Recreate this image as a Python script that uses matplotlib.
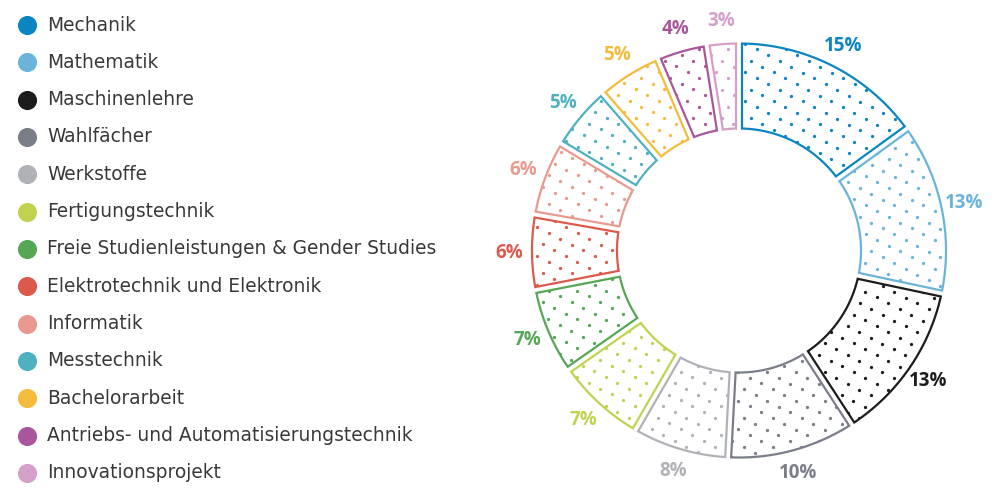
import numpy as np
import matplotlib.pyplot as plt
from matplotlib.path import Path
from matplotlib.patches import PathPatch

# data (ECTS credits per module group, out of 180)
categories = [
    "Mechanik", "Mathematik", "Maschinenlehre", "Wahlfächer", "Werkstoffe",
    "Fertigungstechnik", "Freie Studienleistungen & Gender Studies",
    "Elektrotechnik und Elektronik", "Informatik", "Messtechnik",
    "Bachelorarbeit", "Antriebs- und Automatisierungstechnik", "Innovationsprojekt",
]
credits = [27, 24, 22.5, 18, 13.5, 12.5, 12, 10.5, 10.5, 9, 9, 7, 4.5]
pct_labels = ["15%", "13%", "13%", "10%", "8%", "7%", "7%", "6%", "6%", "5%", "5%", "4%", "3%"]
colors = [
    "#0a85c2", "#6ab4da", "#1c1c1c", "#7a7e89", "#b1b2b7",
    "#c3d150", "#55a755", "#dc5a4b", "#e89a90", "#4fb1bf",
    "#f4bb3c", "#a9579c", "#d49fc8",
]

W, H = 1000, 501
fig = plt.figure(figsize=(W / 100, H / 100), dpi=100)
ax = fig.add_axes([0, 0, 1, 1])
ax.set_xlim(0, W)
ax.set_ylim(0, H)
ax.set_aspect("equal")
ax.axis("off")

# donut geometry in pixel units
cx, cy = 739, H - 250.5
R_out, R_in = 207, 122
half_gap = 3.0

# dot texture: rotated square grid
v1 = np.array([11.5, -5.8])
v2 = np.array([5.8, 11.5])
origin = np.array([756.7, H - 49.3])
ii, jj = np.meshgrid(np.arange(-40, 41), np.arange(-40, 41))
dots = origin + ii.reshape(-1, 1) * v1 + jj.reshape(-1, 1) * v2
near = np.hypot(dots[:, 0] - cx, dots[:, 1] - cy) < R_out + 10
dots = dots[near]


def segment_path(a_start, a_end):
    # a_start > a_end (clockwise), radians
    do = np.arcsin(half_gap / R_out)
    di = np.arcsin(half_gap / R_in)
    t_out = np.linspace(a_start - do, a_end + do, 80)
    t_in = np.linspace(a_end + di, a_start - di, 80)
    xs = np.concatenate([cx + R_out * np.cos(t_out), cx + R_in * np.cos(t_in)])
    ys = np.concatenate([cy + R_out * np.sin(t_out), cy + R_in * np.sin(t_in)])
    verts = np.column_stack([xs, ys])
    verts = np.vstack([verts, verts[:1]])
    codes = [Path.MOVETO] + [Path.LINETO] * (len(verts) - 2) + [Path.CLOSEPOLY]
    return Path(verts, codes)


total = sum(credits)
angle = np.pi / 2
for val, lab, col in zip(credits, pct_labels, colors):
    span = val / total * 2 * np.pi
    a0, a1 = angle, angle - span
    patch = PathPatch(segment_path(a0, a1), facecolor="none", edgecolor=col,
                      lw=1.6, joinstyle="miter", zorder=3)
    ax.add_patch(patch)
    sc = ax.scatter(dots[:, 0], dots[:, 1], s=5.5, color=col, lw=0, zorder=2)
    sc.set_clip_path(patch)

    mid = (a0 + a1) / 2
    ax.text(cx + 230 * np.cos(mid), cy + 230 * np.sin(mid), lab,
            color=col, fontsize=13.5, fontweight="bold", family="Open Sans",
            ha="center", va="center")
    angle = a1

# legend
for i, (name, col) in enumerate(zip(categories, colors)):
    y = H - (25 + i * 37.33)
    ax.scatter([27], [y], s=190, color=col, lw=0)
    ax.text(47, y, name, fontsize=13.4, family="DejaVu Sans", color="#383838",
            ha="left", va="center")

fig.savefig("out.png", dpi=100)
